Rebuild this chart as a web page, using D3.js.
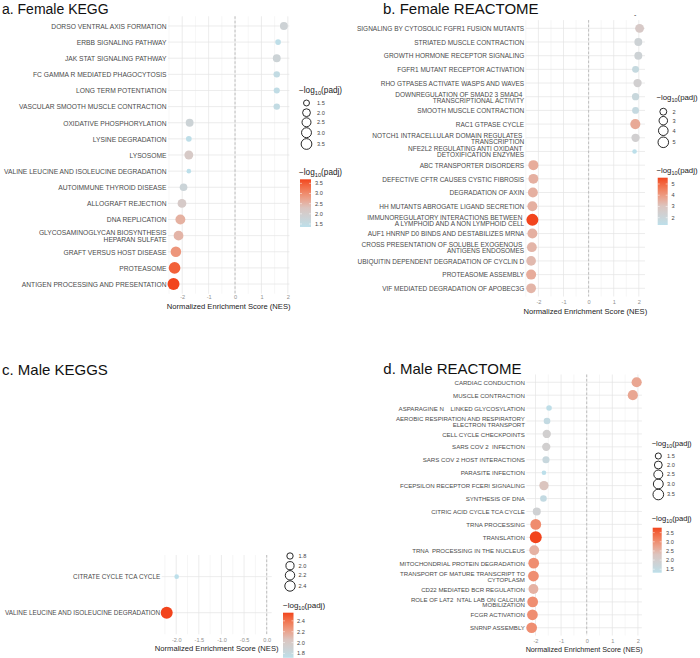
<!DOCTYPE html>
<html><head><meta charset="utf-8">
<script src="https://cdn.jsdelivr.net/npm/d3@7"></script>
<style>
html,body{margin:0;padding:0;background:#fff;}
svg{display:block;font-family:"Liberation Sans",Arial,Helvetica,sans-serif;}
text{white-space:pre;}
</style></head><body>
<svg id="chart" width="700" height="658"></svg>
<script>
// ---------------- DATA ----------------
// a. Female KEGG
const aTerms = [
  "DORSO VENTRAL AXIS FORMATION",
  "ERBB SIGNALING PATHWAY",
  "JAK STAT SIGNALING PATHWAY",
  "FC GAMMA R MEDIATED PHAGOCYTOSIS",
  "LONG TERM POTENTIATION",
  "VASCULAR SMOOTH MUSCLE CONTRACTION",
  "OXIDATIVE PHOSPHORYLATION",
  "LYSINE DEGRADATION",
  "LYSOSOME",
  "VALINE LEUCINE AND ISOLEUCINE DEGRADATION",
  "AUTOIMMUNE THYROID DISEASE",
  "ALLOGRAFT REJECTION",
  "DNA REPLICATION",
  "GLYCOSAMINOGLYCAN BIOSYNTHESIS\nHEPARAN SULFATE",
  "GRAFT VERSUS HOST DISEASE",
  "PROTEASOME",
  "ANTIGEN PROCESSING AND PRESENTATION"
];
const aNES  = [1.85, 1.63, 1.58, 1.58, 1.58, 1.58, -1.72, -1.75, -1.75, -1.75, -1.95, -2.01, -2.07, -2.14, -2.24, -2.29, -2.33];
const aPadj = [1.82, 1.40, 1.80, 1.50, 1.45, 1.50, 1.80, 1.40, 2.13, 1.35, 1.75, 2.10, 2.55, 2.50, 2.88, 3.45, 3.70];
const aSizeBreaks  = [1.5, 2.0, 2.5, 3.0, 3.5];
const aColorBreaks = [1.5, 2.0, 2.5, 3.0, 3.5];

// b. Female REACTOME
const bTerms = [
  "SIGNALING BY CYTOSOLIC FGFR1 FUSION MUTANTS",
  "STRIATED MUSCLE CONTRACTION",
  "GROWTH HORMONE RECEPTOR SIGNALING",
  "FGFR1 MUTANT RECEPTOR ACTIVATION",
  "RHO GTPASES ACTIVATE WASPS AND WAVES",
  "DOWNREGULATION OF SMAD2 3 SMAD4 \nTRANSCRIPTIONAL ACTIVITY",
  "SMOOTH MUSCLE CONTRACTION",
  "RAC1 GTPASE CYCLE",
  "NOTCH1 INTRACELLULAR DOMAIN REGULATES \nTRANSCRIPTION",
  "NFE2L2 REGULATING ANTI OXIDANT \nDETOXIFICATION ENZYMES",
  "ABC TRANSPORTER DISORDERS",
  "DEFECTIVE CFTR CAUSES CYSTIC FIBROSIS",
  "DEGRADATION OF AXIN",
  "HH MUTANTS ABROGATE LIGAND SECRETION",
  "IMMUNOREGULATORY INTERACTIONS BETWEEN \nA LYMPHOID AND A NON LYMPHOID CELL",
  "AUF1 HNRNP D0 BINDS AND DESTABILIZES MRNA",
  "CROSS PRESENTATION OF SOLUBLE EXOGENOUS \nANTIGENS ENDOSOMES",
  "UBIQUITIN DEPENDENT DEGRADATION OF CYCLIN D",
  "PROTEASOME ASSEMBLY",
  "VIF MEDIATED DEGRADATION OF APOBEC3G"
];
const bNES  = [2.03, 1.98, 1.98, 1.87, 1.95, 1.87, 1.87, 1.86, 1.87, 1.83, -2.20, -2.20, -2.22, -2.24, -2.24, -2.24, -2.26, -2.29, -2.29, -2.29];
const bPadj = [2.75, 2.20, 2.20, 1.77, 2.40, 1.90, 1.75, 3.67, 2.40, 1.35, 3.60, 3.50, 3.50, 3.50, 5.56, 3.50, 3.40, 3.30, 3.60, 3.40];
const bSizeBreaks  = [2, 3, 4, 5];
const bColorBreaks = [2, 3, 4, 5];

// c. Male KEGGS
const cTerms = [
  "CITRATE CYCLE TCA CYCLE",
  "VALINE LEUCINE AND ISOLEUCINE DEGRADATION"
];
const cNES  = [-1.99, -2.21];
const cPadj = [1.72, 2.55];
const cSizeBreaks  = [1.8, 2.0, 2.2, 2.4];
const cColorBreaks = [1.8, 2.0, 2.2, 2.4];

// d. Male REACTOME
const dTerms = [
  "CARDIAC CONDUCTION",
  "MUSCLE CONTRACTION",
  "ASPARAGINE N    LINKED GLYCOSYLATION",
  "AEROBIC RESPIRATION AND RESPIRATORY\nELECTRON TRANSPORT",
  "CELL CYCLE CHECKPOINTS",
  "SARS COV 2  INFECTION",
  "SARS COV 2 HOST INTERACTIONS",
  "PARASITE INFECTION",
  "FCEPSILON RECEPTOR FCERI SIGNALING",
  "SYNTHESIS OF DNA",
  "CITRIC ACID CYCLE TCA CYCLE",
  "TRNA PROCESSING",
  "TRANSLATION",
  "TRNA  PROCESSING IN THE NUCLEUS",
  "MITOCHONDRIAL PROTEIN DEGRADATION",
  "TRANSPORT OF MATURE TRANSCRIPT TO\nCYTOPLASM",
  "CD22 MEDIATED BCR REGULATION",
  "ROLE OF LAT2  NTAL LAB ON CALCIUM\nMOBILIZATION",
  "FCGR ACTIVATION",
  "SNRNP ASSEMBLY"
];
const dNES  = [1.95, 1.80, -1.47, -1.55, -1.56, -1.58, -1.59, -1.67, -1.67, -1.69, -1.95, -1.99, -1.99, -2.05, -2.07, -2.08, -2.08, -2.11, -2.12, -2.15];
const dPadj = [2.70, 2.70, 1.35, 1.50, 1.93, 1.93, 1.60, 1.31, 2.30, 1.50, 1.85, 3.03, 3.77, 2.55, 3.00, 3.00, 2.55, 3.00, 3.00, 3.00];
const dSizeBreaks  = [1.5, 2.0, 2.5, 3.0, 3.5];
const dColorBreaks = [1.5, 2.0, 2.5, 3.0, 3.5];

const wideTicks = [-2, -1, 0, 1, 2];
const narrowTicks = [-2.0, -1.5, -1.0, -0.5, 0.0];

// ---------------- STYLE / LAYOUT ----------------
const FONT = '"Liberation Sans", Arial, Helvetica, sans-serif';
const rMin = 2.3, rMax = 6.0;
const colorRamp = d3.scaleLinear()
  .domain([0, 0.4, 1])
  .range(["#bcdfea", "#dbc5c0", "#f2441c"])
  .interpolate(d3.interpolateLab);

const svg = d3.select("#chart");

const panels = [
  { id:"a", title:"a. Female KEGG", titleX:2, titleY:14, titleFs:14,
    terms:aTerms, nes:aNES, padj:aPadj, ticks:wideTicks, tickFmt:v=>String(v), majorStep:1,
    left:168, right:289.4, top:16.3, bottom:293.7, labelFs:6.7, lh:6.6,
    tickY:297, axisTitleY:306, axisTitleFs:7.6,
    sizeBreaks:aSizeBreaks, sizeFmt:v=>v.toFixed(1), sizeTitle:{x:299, y:90, fs:8.2},
    sizeKeyX:306.5, sizeKeyY:[103,112.7,122.3,132.7,144], sizeLabelX:317,
    colorBreaks:aColorBreaks, colorFmt:v=>v.toFixed(1), colorTitle:{x:299, y:171.7, fs:8.2},
    barX:300, barW:11, barTop:179.3, barBottom:227, colorLabelX:315 },
  { id:"b", title:"b. Female REACTOME", titleX:383, titleY:14, titleFs:15,
    terms:bTerms, nes:bNES, padj:bPadj, ticks:wideTicks, tickFmt:v=>String(v), majorStep:1,
    left:525.7, right:645, top:20.1, bottom:296.5, labelFs:6.5, lh:6.0,
    tickY:301.7, axisTitleY:311.7, axisTitleFs:7.6,
    sizeBreaks:bSizeBreaks, sizeFmt:v=>String(v), sizeTitle:{x:656.5, y:97.3, fs:7.8},
    sizeKeyX:663.3, sizeKeyY:[111.7,120.7,130.7,142.3], sizeLabelX:672.5,
    colorBreaks:bColorBreaks, colorFmt:v=>String(v), colorTitle:{x:656.5, y:170, fs:7.8},
    barX:657.7, barW:10, barTop:177.7, barBottom:225, colorLabelX:671.5 },
  { id:"c", title:"c. Male KEGGS", titleX:2, titleY:375, titleFs:15,
    terms:cTerms, nes:cNES, padj:cPadj, ticks:narrowTicks, tickFmt:v=>v.toFixed(1), majorStep:0.5,
    left:161.7, right:271.7, top:555, bottom:634.3, labelFs:6.4, lh:6.0,
    tickY:640, axisTitleY:648.3, axisTitleFs:7.6,
    sizeBreaks:cSizeBreaks, sizeFmt:v=>v.toFixed(1), sizeTitle:null,
    sizeKeyX:290, sizeKeyY:[556,565.7,575.3,586], sizeLabelX:298.5,
    colorBreaks:cColorBreaks, colorFmt:v=>v.toFixed(1), colorTitle:{x:283, y:605, fs:8},
    barX:283, barW:10.5, barTop:612.7, barBottom:657.8, colorLabelX:297 },
  { id:"d", title:"d. Male REACTOME", titleX:383.3, titleY:374, titleFs:15,
    terms:dTerms, nes:dNES, padj:dPadj, ticks:wideTicks, tickFmt:v=>String(v), majorStep:1,
    left:526.4, right:641.9, top:374.5, bottom:635.5, labelFs:6.1, lh:5.8,
    tickY:641, axisTitleY:649.3, axisTitleFs:7.2,
    sizeBreaks:dSizeBreaks, sizeFmt:v=>v.toFixed(1), sizeTitle:{x:651.7, y:443.3, fs:7.6},
    sizeKeyX:658.3, sizeKeyY:[456,465,474.5,484,494.5], sizeLabelX:667,
    colorBreaks:dColorBreaks, colorFmt:v=>v.toFixed(1), colorTitle:{x:651.7, y:518.3, fs:7.6},
    barX:652.7, barW:9, barTop:527.7, barBottom:572.7, colorLabelX:666 }
];

function legendTitle(g, x, y, fs) {
  const t = g.append("text").attr("x", x).attr("y", y).attr("dy", "0.35em")
    .attr("font-size", fs).attr("fill", "#222").attr("font-family", FONT);
  t.append("tspan").text("\u2212log");
  t.append("tspan").attr("font-size", fs * 0.7).attr("dy", fs * 0.28).text("10");
  t.append("tspan").attr("dy", -fs * 0.28).text("(padj)");
}

function drawPanel(cfg) {
  const g = svg.append("g").attr("class", "panel-" + cfg.id);

  const ext = d3.extent(cfg.nes.concat([0]));
  const pad = (ext[1] - ext[0]) * 0.05;
  const x = d3.scaleLinear().domain([ext[0] - pad, ext[1] + pad]).range([cfg.left, cfg.right]);
  const y = d3.scalePoint().domain(cfg.terms).range([cfg.top, cfg.bottom]).padding(0.6);

  const pext = d3.extent(cfg.padj);
  const tScale = d3.scaleLinear().domain(pext).range([0, 1]);
  const color = v => colorRamp(Math.max(0, Math.min(1, tScale(v))));
  const rad = v => rMin + (rMax - rMin) * Math.sqrt(Math.max(0, tScale(v)));

  // grid: vertical (major + minor)
  const [d0, d1] = x.domain();
  const half = cfg.majorStep / 2;
  const gridVals = d3.range(Math.ceil(d0 / half) * half, d1 + 1e-9, half);
  const isMajor = d => Math.abs(d / cfg.majorStep - Math.round(d / cfg.majorStep)) < 1e-6;
  g.append("g").selectAll("line").data(gridVals).join("line")
    .attr("x1", d => x(d)).attr("x2", d => x(d))
    .attr("y1", cfg.top).attr("y2", cfg.bottom)
    .attr("stroke", d => isMajor(d) ? "#e4e4e4" : "#ececec")
    .attr("stroke-width", d => isMajor(d) ? 0.7 : 0.5);
  // grid: horizontal
  g.append("g").selectAll("line").data(cfg.terms).join("line")
    .attr("x1", cfg.left).attr("x2", cfg.right)
    .attr("y1", d => y(d)).attr("y2", d => y(d))
    .attr("stroke", "#e4e4e4").attr("stroke-width", 0.7);
  // zero line
  g.append("line").attr("x1", x(0)).attr("x2", x(0)).attr("y1", cfg.top).attr("y2", cfg.bottom)
    .attr("stroke", "#a8a8a8").attr("stroke-width", 0.7).attr("stroke-dasharray", "2.5,2");

  // points
  const rows = cfg.terms.map((term, i) => ({ term, nes: cfg.nes[i], padj: cfg.padj[i] }));
  g.append("g").selectAll("circle").data(rows).join("circle")
    .attr("cx", d => x(d.nes)).attr("cy", d => y(d.term))
    .attr("r", d => rad(d.padj)).attr("fill", d => color(d.padj));

  // y axis labels
  const yAxis = g.append("g").attr("transform", `translate(${cfg.left - 1.5},0)`)
    .call(d3.axisLeft(y).tickSize(0).tickPadding(0));
  yAxis.select(".domain").remove();
  yAxis.selectAll("text").each(function(d) {
    const el = d3.select(this);
    const lines = d.split("\n");
    el.text(null).attr("dy", null).attr("x", 0)
      .attr("font-size", cfg.labelFs).attr("font-family", FONT).attr("fill", "#4a4a4a")
      .attr("text-anchor", "end");
    lines.forEach((ln, i) => {
      el.append("tspan").attr("x", 0)
        .attr("dy", i === 0 ? (-(lines.length - 1) / 2 * cfg.lh + cfg.labelFs * 0.35) : cfg.lh)
        .text(ln);
    });
  });

  // x axis tick labels
  const xAxis = g.append("g").attr("transform", `translate(0,${cfg.tickY})`)
    .call(d3.axisBottom(x).tickValues(cfg.ticks).tickSize(0).tickPadding(0).tickFormat(cfg.tickFmt));
  xAxis.select(".domain").remove();
  xAxis.selectAll("text").attr("y", 0).attr("dy", "0.35em")
    .attr("font-size", 5.6).attr("font-family", FONT).attr("fill", "#8f8f8f");

  // x axis title
  g.append("text").attr("x", (cfg.left + cfg.right) / 2).attr("y", cfg.axisTitleY).attr("dy", "0.35em")
    .attr("text-anchor", "middle").attr("font-size", cfg.axisTitleFs).attr("font-family", FONT)
    .attr("fill", "#222").text("Normalized Enrichment Score (NES)");

  // panel title
  svg.append("text").attr("x", cfg.titleX).attr("y", cfg.titleY)
    .attr("font-size", cfg.titleFs).attr("font-family", FONT).attr("fill", "#111").text(cfg.title);

  // size legend
  const lg = g.append("g");
  if (cfg.sizeTitle) legendTitle(lg, cfg.sizeTitle.x, cfg.sizeTitle.y, cfg.sizeTitle.fs);
  cfg.sizeBreaks.forEach((b, i) => {
    lg.append("circle").attr("cx", cfg.sizeKeyX).attr("cy", cfg.sizeKeyY[i]).attr("r", rad(b) * 0.92)
      .attr("fill", "none").attr("stroke", "#111").attr("stroke-width", 0.9);
    lg.append("text").attr("x", cfg.sizeLabelX).attr("y", cfg.sizeKeyY[i]).attr("dy", "0.35em")
      .attr("font-size", 5.6).attr("font-family", FONT).attr("fill", "#444").text(cfg.sizeFmt(b));
  });

  // color bar legend
  legendTitle(lg, cfg.colorTitle.x, cfg.colorTitle.y, cfg.colorTitle.fs);
  const gid = "grad-" + cfg.id;
  const grad = svg.append("defs").append("linearGradient").attr("id", gid)
    .attr("x1", 0).attr("y1", 1).attr("x2", 0).attr("y2", 0);
  d3.range(0, 1.0001, 0.05).forEach(t => {
    grad.append("stop").attr("offset", t).attr("stop-color", colorRamp(t));
  });
  lg.append("rect").attr("x", cfg.barX).attr("y", cfg.barTop).attr("width", cfg.barW)
    .attr("height", cfg.barBottom - cfg.barTop).attr("fill", `url(#${gid})`);
  const cy = d3.scaleLinear().domain(pext).range([cfg.barBottom, cfg.barTop]);
  cfg.colorBreaks.forEach(b => {
    lg.append("line").attr("x1", cfg.barX).attr("x2", cfg.barX + 2).attr("y1", cy(b)).attr("y2", cy(b))
      .attr("stroke", "#fff").attr("stroke-width", 0.5);
    lg.append("line").attr("x1", cfg.barX + cfg.barW - 2).attr("x2", cfg.barX + cfg.barW).attr("y1", cy(b)).attr("y2", cy(b))
      .attr("stroke", "#fff").attr("stroke-width", 0.5);
    lg.append("text").attr("x", cfg.colorLabelX).attr("y", cy(b)).attr("dy", "0.35em")
      .attr("font-size", 5.6).attr("font-family", FONT).attr("fill", "#444").text(cfg.colorFmt(b));
  });
}

panels.forEach(drawPanel);

// small stray mark above panel b
svg.append("text").attr("x", 634).attr("y", 17).attr("font-size", 7).attr("font-family", FONT)
  .attr("fill", "#333").text("-");
</script>
</body></html>
